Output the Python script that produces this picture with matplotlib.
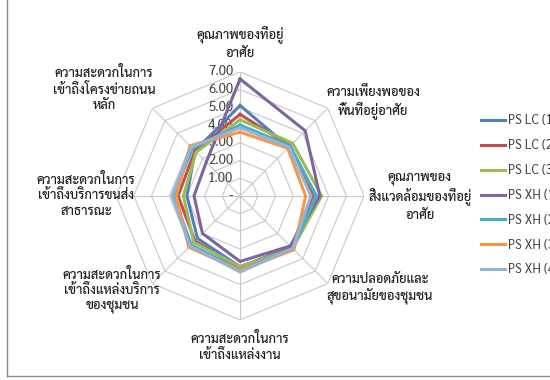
import numpy as np
import matplotlib
matplotlib.use('Agg')
import matplotlib.pyplot as plt
from matplotlib.lines import Line2D

plt.rcParams['font.family'] = ['Sarabun', 'DejaVu Sans']

# dimensions, clockwise from the top
categories = [
    "คุณภาพของที่อยู่\nอาศัย",
    "ความเพียงพอของ\nพื้นที่อยู่อาศัย",
    "คุณภาพของ\nสิ่งแวดล้อมของที่อยู่\nอาศัย",
    "ความปลอดภัยและ\nสุขอนามัยของชุมชน",
    "ความสะดวกในการ\nเข้าถึงแหล่งงาน",
    "ความสะดวกในการ\nเข้าถึงแหล่งบริการ\nของชุมชน",
    "ความสะดวกในการ\nเข้าถึงบริการขนส่ง\nสาธารณะ",
    "ความสะดวกในการ\nเข้าถึงโครงข่ายถนน\nหลัก",
]

series_names = ["PS LC (1)", "PS LC (2)", "PS LC (3)",
                "PS XH (1)", "PS XH (2)", "PS XH (3)", "PS XH (4)"]
ps_lc1 = [5.10, 3.90, 4.30, 4.10, 4.00, 3.40, 3.00, 3.60]
ps_lc2 = [4.60, 4.00, 4.10, 4.10, 4.10, 3.60, 3.50, 3.60]
ps_lc3 = [4.30, 4.20, 4.60, 4.20, 4.00, 3.70, 3.20, 3.50]
ps_xh1 = [6.60, 5.20, 4.50, 4.00, 3.70, 3.00, 2.60, 2.70]
ps_xh2 = [4.00, 4.00, 4.30, 4.20, 4.20, 3.90, 3.75, 3.80]
ps_xh3 = [3.60, 3.80, 3.70, 4.30, 4.20, 4.10, 3.60, 4.00]
ps_xh4 = [3.85, 3.90, 4.00, 4.20, 4.30, 4.00, 3.85, 3.90]
all_series = [ps_lc1, ps_lc2, ps_lc3, ps_xh1, ps_xh2, ps_xh3, ps_xh4]
colors = ["#4F81BD", "#C0504D", "#9BBB59", "#8064A2",
          "#4BACC6", "#F79646", "#95B3D7"]

levels = [1, 2, 3, 4, 5, 6, 7]
level_labels = ["1.00", "2.00", "3.00", "4.00", "5.00", "6.00", "7.00"]

n = len(categories)
theta = np.linspace(0, 2 * np.pi, n, endpoint=False)
theta_c = np.append(theta, theta[0])

fig = plt.figure(figsize=(5.5, 3.8), dpi=100)
ax = fig.add_axes([0.211, 0.158, 0.451, 0.653], projection='polar')
ax.set_theta_offset(np.pi / 2)
ax.set_theta_direction(-1)
ax.set_ylim(0, 7)
ax.grid(False)
ax.spines['polar'].set_visible(False)
ax.set_xticks([])
ax.set_yticks([])
ax.patch.set_alpha(0)

# octagonal web
grid_col = "#C8C8C8"
for lv in levels:
    ax.plot(theta_c, [lv] * (n + 1), color=grid_col, lw=0.8, zorder=1)
for t in theta:
    ax.plot([t, t], [0, 7], color=grid_col, lw=0.8, zorder=1)

# value labels along the top spoke
for lv, lab in zip(levels, level_labels):
    ax.annotate(lab, (0, lv), xytext=(-5, 0), textcoords='offset points',
                ha='right', va='center', fontsize=9.5, color="#404040")
ax.annotate("-", (0, 0), xytext=(-5, 0), textcoords='offset points',
            ha='right', va='center', fontsize=9.5, color="#404040")

for vals, col in zip(all_series, colors):
    ax.plot(theta_c, vals + vals[:1], color=col, lw=2.2, zorder=3,
            solid_joinstyle='miter')

# category labels (pixel centres in a 550x380 canvas)
label_pos = [(240, 43), (373, 103), (420, 197), (380, 289),
             (240, 347), (112, 291), (86, 195), (104, 89)]
for text, (px, py) in zip(categories, label_pos):
    fig.text(px / 550, 1 - py / 380, text, ha='center', va='center',
             fontsize=9.3, fontweight='medium', color="#1E1E1E",
             linespacing=1.25)

handles = [Line2D([], [], color=c, lw=2.2) for c in colors]
fig.legend(handles, series_names, loc='upper left',
           bbox_to_anchor=(475 / 550, 1 - 108 / 380), frameon=False,
           fontsize=9, handlelength=1.9, handletextpad=0.2,
           labelspacing=0.95, borderpad=0, labelcolor="#404040")

# chart border
fig.add_artist(Line2D([7 / 550, 7 / 550], [0.01, 1.0], color="#8C8C8C",
                      lw=1.0, transform=fig.transFigure))
fig.add_artist(Line2D([7 / 550, 1.0], [0.01, 0.01], color="#8C8C8C",
                      lw=1.0, transform=fig.transFigure))

fig.savefig('out.png', dpi=100)
